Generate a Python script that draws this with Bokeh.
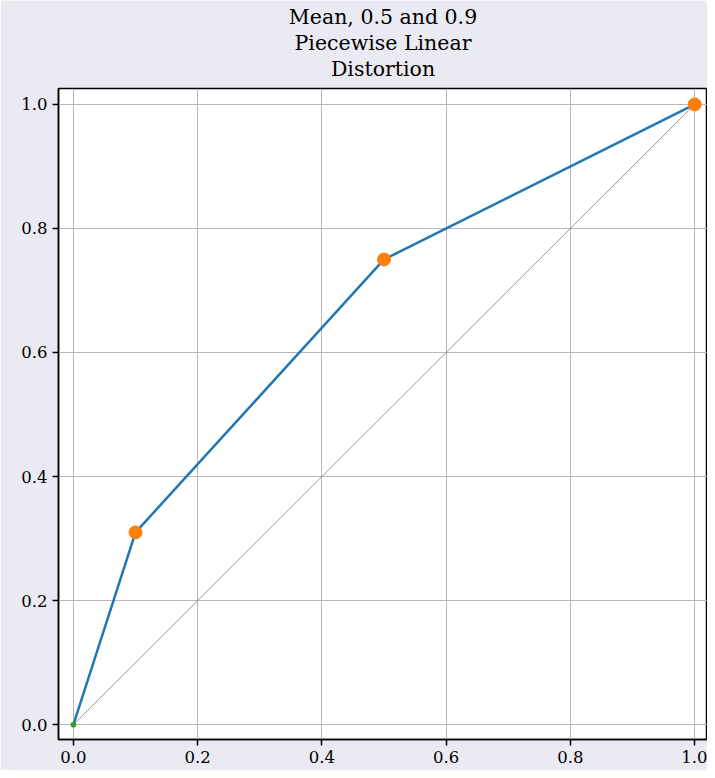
from bokeh.plotting import figure
from bokeh.models import FixedTicker, Range1d, Title, NumeralTickFormatter
from bokeh.embed import file_html
from bokeh.resources import INLINE

# data
knots_x = [0.0, 0.1, 0.5, 1.0]
knots_y = [0.0, 0.31, 0.75, 1.0]
marker_x = [0.1, 0.5, 1.0]
marker_y = [0.31, 0.75, 1.0]
origin_x = [0.0]
origin_y = [0.0]
diag_x = [0.0, 1.0]
diag_y = [0.0, 1.0]
ticks = [0.0, 0.2, 0.4, 0.6, 0.8, 1.0]
title_lines = ["Mean, 0.5 and 0.9", "Piecewise Linear", "Distortion"]

BG = "#eaeaf2"
FONT = "DejaVu Serif"

p = figure(width=707, height=770, output_backend="svg", toolbar_location=None,
           x_range=Range1d(-0.024, 1.0206), y_range=Range1d(-0.0239, 1.0256),
           min_border_left=58, min_border_right=0, min_border_top=88, min_border_bottom=31)
p.title = None
# small spacer between title block and frame
p.add_layout(Title(text=" ", text_font=FONT, text_font_size="5px", standoff=0), "above")
for line in reversed(title_lines):
    t = Title(text=line, align="center", text_font=FONT, text_font_size="20.5px",
              text_font_style="normal", text_color="black", standoff=0)
    p.add_layout(t, "above")

p.background_fill_color = "white"
p.border_fill_color = BG
p.outline_line_color = "black"
p.outline_line_width = 1.5

for ax in (p.xaxis[0], p.yaxis[0]):
    ax.ticker = FixedTicker(ticks=ticks)
    ax.formatter = NumeralTickFormatter(format="0.0")
    ax.major_label_text_font = FONT
    ax.major_label_text_font_size = "16.5px"
    ax.major_label_text_color = "black"
    ax.axis_line_color = "black"
    ax.axis_line_width = 1.5
    ax.major_tick_line_color = "black"
    ax.major_tick_line_width = 1.5
    ax.major_tick_out = 6
    ax.major_tick_in = 0
    ax.minor_tick_line_color = None
    ax.major_label_standoff = 5

p.grid.ticker = FixedTicker(ticks=ticks)
p.grid.grid_line_color = "#b0b0b0"
p.grid.grid_line_width = 0.9

p.line(diag_x, diag_y, line_color="#808080", line_width=0.8)
p.line(knots_x, knots_y, line_color="#1f77b4", line_width=2.5)
p.scatter(marker_x, marker_y, size=13, fill_color="#ff7f0e", line_color="#ff7f0e")
p.scatter(origin_x, origin_y, size=5, fill_color="#2ca02c", line_color="#2ca02c")

open("out.html", "w").write(file_html(p, INLINE))
